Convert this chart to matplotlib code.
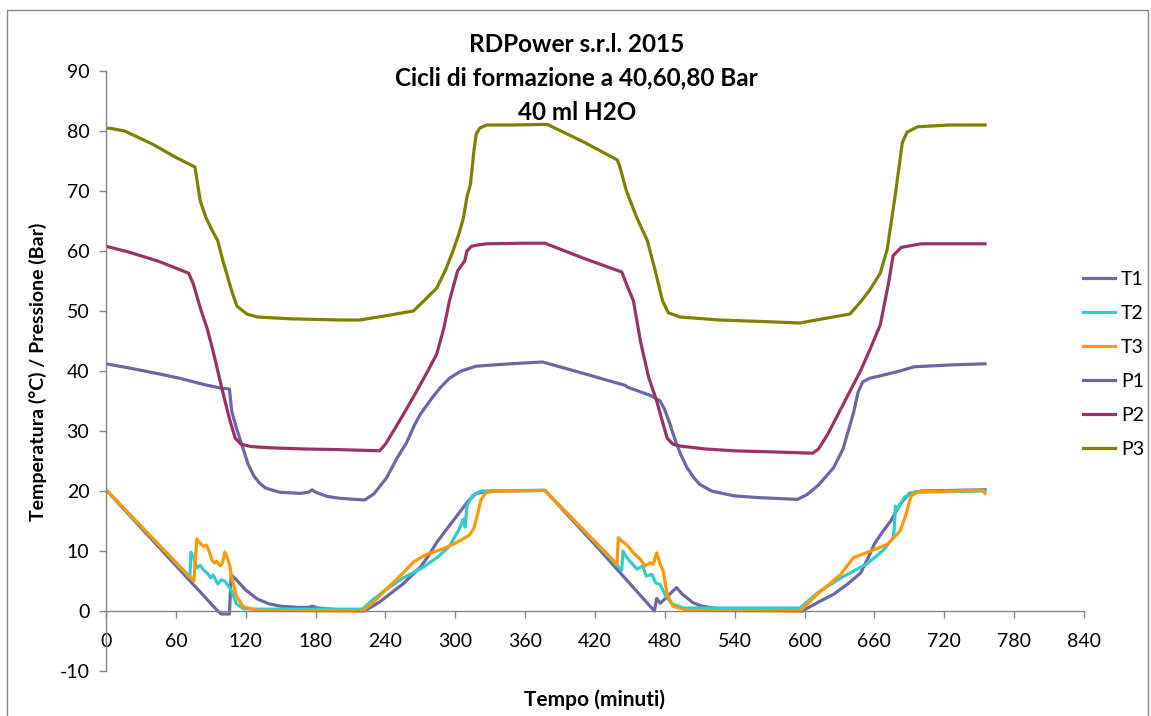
import matplotlib
matplotlib.use("Agg")
import matplotlib.pyplot as plt
from matplotlib.lines import Line2D

plt.rcParams['font.family'] = ['Lato', 'DejaVu Sans']
plt.rcParams['axes.unicode_minus'] = False

# ---- data (tempo in minuti) ----
t1_t = [0, 96, 99, 106, 107.5, 112, 120, 130, 140, 150, 165, 174, 177, 182, 200, 222,
        235, 245, 255, 263, 270, 278, 284, 292, 300, 311, 318, 330, 377,
        424, 471, 473, 476, 480, 490, 495, 504, 512, 525, 560, 598,
        612, 625, 637, 648, 655, 660, 667, 674, 682, 690, 700, 755]
t1_v = [20.2, 0, -0.5, -0.5, 6.0, 5.2, 3.5, 2.0, 1.2, 0.8, 0.6, 0.6, 0.8, 0.5, 0.2, 0,
        1.5, 3.0, 4.5, 6.0, 7.3, 9.5, 11.4, 13.5, 15.5, 18.3, 19.6, 20.0, 20.1,
        10.2, 0, 2.1, 1.3, 2.0, 3.9, 2.8, 1.4, 0.8, 0.4, 0.2, 0,
        1.5, 2.8, 4.5, 6.3, 9.0, 11.2, 13.2, 15.0, 17.8, 19.6, 20.0, 20.2]

t2_t = [0, 72, 73, 76, 78, 81, 84, 87, 90, 92, 96, 99, 102, 105, 108, 112, 118, 130, 220,
        230, 240, 255, 270, 285, 295, 303, 307, 308.5, 310, 315, 322, 377,
        443, 444, 447, 450, 456, 461, 464, 469, 472, 476, 480, 486, 496, 596,
        611, 631, 653, 667, 676, 677, 678, 680, 686, 694, 755]
t2_v = [20.2, 5.6, 9.8, 8.5, 7.2, 7.6, 6.8, 6.3, 5.5, 6.0, 4.5, 5.2, 5.0, 4.2, 3.3, 1.2, 0.4, 0.3, 0.3,
        2.0, 3.5, 5.5, 7.0, 9.0, 10.8, 13.5, 15.3, 14.0, 17.5, 19.3, 20.0, 20.1,
        6.8, 10.0, 9.0, 8.3, 7.0, 7.5, 5.8, 6.1, 4.7, 4.4, 2.8, 1.2, 0.5, 0.5,
        3.0, 5.5, 7.8, 10.0, 12.2, 13.5, 17.5, 17.0, 19.0, 19.8, 20.0]

t3_t = [0, 75.5, 78, 80, 83.5, 86, 88, 91, 93, 95, 98, 100, 102, 104, 106, 108, 112, 118, 130, 220,
        230, 240, 255, 265, 275, 290, 300, 312, 316, 319, 322, 326, 335, 377,
        439, 440, 444, 447, 453, 459, 463, 467, 470, 473, 476, 478.5, 482, 487, 500, 596,
        611, 631, 642, 653, 671, 682, 687, 691.5, 698, 753, 755]
t3_v = [20.2, 5.0, 12.0, 11.5, 10.8, 11.0, 10.3, 8.5, 8.0, 8.3, 7.5, 8.0, 9.8, 9.0, 7.8, 5.6, 2.5, 0.7, 0.1, 0,
        1.5, 3.5, 6.3, 8.3, 9.4, 10.4, 11.3, 12.6, 13.8, 16.0, 18.5, 19.7, 20.0, 20.1,
        7.8, 12.2, 11.5, 11.1, 9.7, 8.6, 7.5, 8.0, 7.8, 9.7, 7.8, 6.7, 2.8, 0.8, 0.1, 0,
        2.8, 6.1, 8.9, 9.7, 11.1, 13.3, 16.0, 19.2, 19.9, 20.1, 19.6]

p1_t = [0, 20, 46, 63, 85, 100, 106, 108, 112, 117, 122, 127, 132, 137, 149, 167, 174, 177, 180,
        190, 200, 222, 230, 241, 250, 258, 265, 270, 280, 287, 295, 305, 318, 347, 375,
        410, 446, 448, 458, 468, 476, 480, 485, 490, 495, 499, 505, 510, 520, 539, 560, 594,
        602, 612, 625, 633, 642, 646, 650, 656, 665, 680, 694, 724, 755]
p1_v = [41.2, 40.5, 39.5, 38.8, 37.7, 37.1, 37.0, 33.3, 30.5, 27.5, 24.5, 22.5, 21.3, 20.5, 19.8, 19.6,
        19.8, 20.2, 19.8, 19.1, 18.8, 18.5, 19.5, 22.2, 25.5, 28.0, 31.0, 32.8, 35.5, 37.2, 38.8, 40.0,
        40.8, 41.2, 41.5, 39.6, 37.6, 37.3, 36.6, 35.9, 35.0, 33.5, 30.8, 27.8, 25.5, 23.9, 22.2, 21.1,
        20.0, 19.2, 18.9, 18.6, 19.4, 21.0, 23.9, 27.0, 33.0, 36.5, 38.2, 38.8, 39.2, 39.9, 40.7, 41.0, 41.2]

p2_t = [0, 20, 45, 71, 75, 81, 87, 92, 100, 106.5, 111, 116, 125, 141, 170, 200, 235,
        240, 250, 260, 267, 275, 284, 290, 295, 302, 305, 308, 310, 314, 319, 327, 360, 377,
        410, 443, 447, 453, 459, 466, 473, 478, 482, 487, 493, 515, 539, 575, 607,
        612, 620, 628, 636, 648, 656, 665, 672, 676, 683, 700, 755]
p2_v = [60.8, 59.8, 58.3, 56.3, 54.5, 50.5, 47.0, 43.3, 36.7, 31.7, 28.8, 27.8, 27.4, 27.2, 27.0, 26.9, 26.7,
        27.8, 31.0, 34.3, 36.7, 39.5, 42.8, 47.0, 51.7, 56.7, 57.5, 58.3, 60.0, 60.8, 61.0, 61.2, 61.3, 61.3,
        58.8, 56.5, 54.5, 51.7, 45.0, 39.0, 35.0, 31.5, 28.8, 27.8, 27.5, 27.0, 26.7, 26.5, 26.3,
        27.0, 29.5, 32.5, 35.5, 40.0, 43.5, 47.7, 54.5, 59.2, 60.6, 61.2, 61.2]

p3_t = [0, 5, 16, 40, 60, 76.4, 78, 81, 86, 91, 96, 100.5, 104, 108, 112.5, 121, 130, 158, 201, 218,
        240, 264, 272, 284, 292, 298, 303, 307, 310, 313, 316, 318, 321, 327, 347, 379,
        410, 439, 441, 447, 456, 465, 472, 478, 483, 493, 527, 570, 596,
        610, 639, 648, 656, 665, 671, 678, 684, 688, 697, 724, 755]
p3_v = [80.5, 80.4, 80.0, 77.8, 75.6, 74.0, 72.0, 68.3, 65.5, 63.5, 61.7, 58.3, 56.0, 53.3, 50.8, 49.5, 49.0,
        48.7, 48.5, 48.5, 49.2, 50.0, 51.5, 53.8, 57.0, 60.0, 62.8, 65.5, 69.0, 71.1, 76.7, 79.5, 80.5,
        81.0, 81.0, 81.1, 78.2, 75.2, 74.3, 70.0, 65.5, 61.7, 56.5, 51.7, 49.7, 49.0, 48.5, 48.2, 48.0,
        48.5, 49.5, 51.5, 53.5, 56.3, 60.3, 69.5, 78.1, 79.8, 80.7, 81.0, 81.0]

series_names = ['T1', 'T2', 'T3', 'P1', 'P2', 'P3']
series_t = [t1_t, t2_t, t3_t, p1_t, p2_t, p3_t]
series_v = [t1_v, t2_v, t3_v, p1_v, p2_v, p3_v]
colors = ['#6B68A3', '#33CCCC', '#FF9900', '#6B68A3', '#993366', '#808000']

x_ticks = list(range(0, 841, 60))
y_ticks = list(range(-10, 91, 10))

W, H = 1151, 716
fig = plt.figure(figsize=(W / 100, H / 100), dpi=100)
ax = fig.add_axes([106 / W, 1 - 671 / H, 978 / W, 600 / H])

for name, tt, vv, c in zip(series_names, series_t, series_v, colors):
    ax.plot(tt, vv, color=c, lw=2.3, label=name, solid_joinstyle='round')

ax.set_xlim(0, 840)
ax.set_ylim(-10, 90)
ax.set_xticks(x_ticks)
ax.set_yticks(y_ticks)

grey = '#868686'
for s in ['top', 'right']:
    ax.spines[s].set_visible(False)
ax.spines['bottom'].set_position(('data', 0))
for s in ['left', 'bottom']:
    ax.spines[s].set_color(grey)
    ax.spines[s].set_linewidth(1)
ax.tick_params(axis='both', direction='out', length=5, width=1, color=grey,
               labelsize=14, labelcolor='black')
ax.tick_params(axis='x', pad=11)
ax.tick_params(axis='y', pad=7)

# title, three lines
fig.text(0.501, 1 - 45 / H, 'RDPower s.r.l. 2015', ha='center', va='center',
         fontsize=17.5, fontweight='bold')
fig.text(0.501, 1 - 78 / H, 'Cicli di formazione a 40,60,80 Bar', ha='center', va='center',
         fontsize=17.5, fontweight='bold')
fig.text(0.501, 1 - 112 / H, '40 ml H2O', ha='center', va='center',
         fontsize=17.5, fontweight='bold')

fig.text(38 / W, 1 - 372 / H, 'Temperatura (°C) / Pressione (Bar)', rotation=90,
         ha='center', va='center', fontsize=14, fontweight='bold')
fig.text(595 / W, 1 - 700 / H, 'Tempo (minuti)', ha='center', va='center',
         fontsize=15, fontweight='bold')

fig.legend(loc='center left', bbox_to_anchor=(1083 / W, 1 - 364.5 / H), frameon=False,
           fontsize=14, handlelength=1.65, handletextpad=0.3, labelspacing=0.88,
           borderpad=0, borderaxespad=0)

# chart border
fig.add_artist(Line2D([7 / W, 7 / W, 1148 / W, 1148 / W], [0, 1 - 10 / H, 1 - 10 / H, 0],
                      transform=fig.transFigure, color=grey, lw=1))

fig.savefig('out.png', dpi=100)
